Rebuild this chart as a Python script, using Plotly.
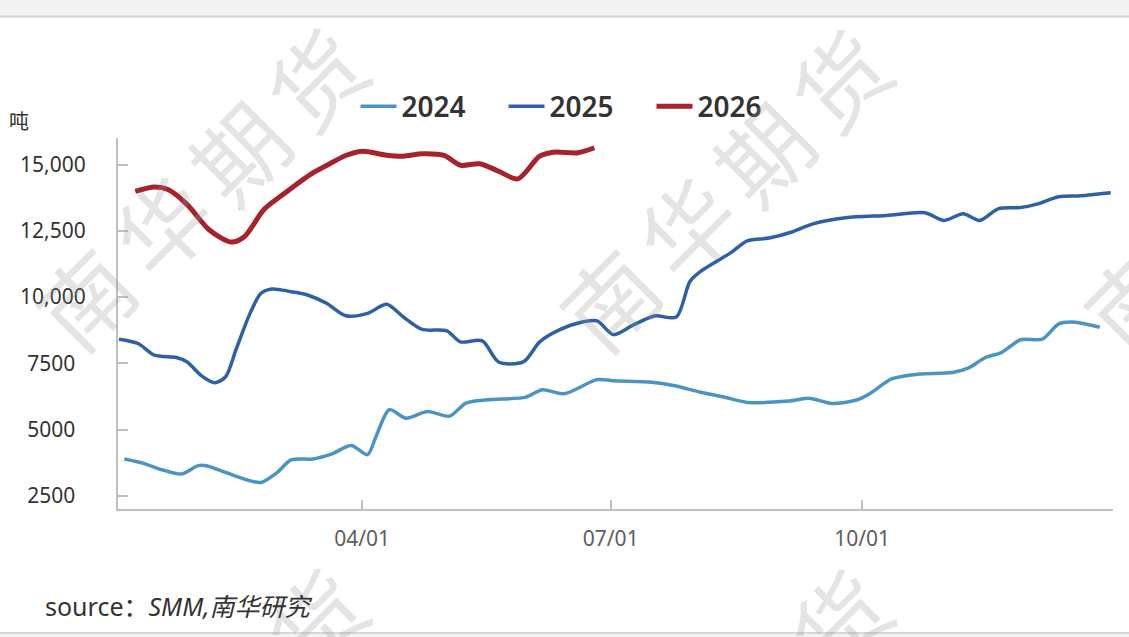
import plotly.graph_objects as go

# ---------------- data ----------------
YEAR = "2025"  # common calendar year used to overlay the seasons on one month/day axis

dates_2024 = ["01-04", "01-11", "01-18", "01-25", "01-31", "02-03", "02-10", "02-18", "02-23", "03-01",
              "03-06", "03-14", "03-21", "03-28", "04-03", "04-06", "04-11", "04-17", "04-25", "05-03",
              "05-09", "05-17", "05-31", "06-06", "06-14", "06-26", "07-02", "07-16", "07-24", "08-03",
              "08-11", "08-20", "09-04", "09-12", "09-20", "09-29", "10-04", "10-12", "10-22", "11-03",
              "11-09", "11-15", "11-21", "11-28", "12-06", "12-12", "12-18", "12-27"]
values_2024 = [3890, 3724, 3472, 3320, 3636, 3636, 3382, 3093, 3003, 3382,
               3852, 3890, 4080, 4394, 4053, 4709, 5746, 5428, 5681, 5503,
               5996, 6122, 6223, 6503, 6350, 6882, 6840, 6787, 6662, 6405,
               6238, 6022, 6072, 6174, 5984, 6113, 6367, 6916, 7094, 7147,
               7325, 7708, 7901, 8386, 8413, 8988, 9049, 8859]

dates_2025 = ["01-02", "01-09", "01-15", "01-23", "01-27", "02-01", "02-06", "02-10", "02-14", "02-19",
              "02-23", "02-27", "03-06", "03-12", "03-19", "03-26", "04-03", "04-10", "04-16", "04-23",
              "05-02", "05-07", "05-15", "05-21", "05-30", "06-05", "06-12", "06-21", "06-26", "07-02",
              "07-09", "07-17", "07-25", "07-30", "08-03", "08-14", "08-20", "08-28", "09-05", "09-13",
              "09-25", "10-10", "10-24", "10-31", "11-07", "11-13", "11-20", "11-28", "12-04", "12-12",
              "12-20", "12-31"]
values_2025 = [8409, 8246, 7803, 7716, 7549, 7045, 6768, 6981, 8057, 9382,
               10140, 10303, 10201, 10076, 9761, 9292, 9382, 9723, 9254, 8776,
               8723, 8307, 8345, 7549, 7549, 8307, 8750, 9064, 9102, 8580,
               8928, 9284, 9246, 10587, 10973, 11674, 12121, 12224, 12443, 12761,
               12992, 13079, 13182, 12890, 13144, 12890, 13337, 13375, 13504, 13784,
               13822, 13936]

dates_2026 = ["01-08", "01-15", "01-20", "01-27", "02-04", "02-12", "02-17", "02-24", "03-03", "03-13",
              "03-19", "03-26", "04-01", "04-10", "04-16", "04-23", "05-01", "05-07", "05-14", "05-21",
              "05-28", "06-05", "06-10", "06-19", "06-25"]
values_2026 = [13989, 14155, 14053, 13485, 12538, 12072, 12284, 13295, 13864, 14621,
               14962, 15341, 15504, 15352, 15314, 15405, 15341, 14973, 15026, 14746,
               14458, 15314, 15466, 15443, 15633]

series_names = ["2024", "2025", "2026"]

y_tick_values = [2500, 5000, 7500, 10000, 12500, 15000]
y_tick_labels = ["2500", "5000", "7500", "10,000", "12,500", "15,000"]
x_tick_dates = ["04-01", "07-01", "10-01"]
x_tick_labels = ["04/01", "07/01", "10/01"]

unit_label = "吨"
source_text = "source：<i>SMM,南华研究</i>"
watermark_text = "南华期货"

# ---------------- styling / layout ----------------
W, H = 1129, 637
PL, PR, PT, PB = 118, 1113, 138, 509   # plot area in page pixels

def px(xp):
    return (xp - PL) / (PR - PL)

def py(yp):
    return (PB - yp) / (PB - PT)

FONT = "Noto Sans, Noto Sans CJK SC, sans-serif"
colors = ["#4b94c2", "#2e60a4", "#a8222b"]
widths = [3.5, 3.5, 5]

fig = go.Figure()
for name, d, v, c, w in zip(series_names, [dates_2024, dates_2025, dates_2026],
                            [values_2024, values_2025, values_2026], colors, widths):
    fig.add_trace(go.Scatter(
        x=[f"{YEAR}-{s}" for s in d], y=v, name=name, mode="lines",
        line=dict(color=c, width=w, shape="spline", smoothing=0.8),
        hoverinfo="skip"))

annotations = []
# watermark (drawn as real rotated text)
step = (77, -73)
for cx, cy in [(198, 187), (722, 188), (1246, 188), (198, 727), (722, 728), (1246, 728)]:
    for k, ch in zip([-1.5, -0.5, 0.5, 1.5], watermark_text):
        annotations.append(dict(
            text=ch, x=px(cx + k * step[0]), y=py(cy + k * step[1]),
            xref="paper", yref="paper", showarrow=False, textangle=-45,
            xanchor="center", yanchor="middle",
            font=dict(family="Noto Sans CJK SC", size=92, color="rgba(150,150,150,0.26)")))

annotations.append(dict(text=unit_label, x=px(19), y=py(121), xref="paper", yref="paper",
                        showarrow=False, xanchor="center", yanchor="middle",
                        font=dict(family=FONT, size=20, color="#333333")))
annotations.append(dict(text=source_text, x=px(43), y=py(606), xref="paper", yref="paper",
                        showarrow=False, xanchor="left", yanchor="middle",
                        font=dict(family=FONT, size=25, color="#333333")))

shapes = [
    dict(type="rect", xref="paper", yref="paper", x0=px(0), x1=px(W), y0=py(16), y1=py(-2),
         fillcolor="#f2f2f2", line=dict(width=0), layer="above"),
    dict(type="line", xref="paper", yref="paper", x0=px(0), x1=px(W), y0=py(16.5), y1=py(16.5),
         line=dict(color="#d4d4d4", width=2), layer="above"),
    dict(type="rect", xref="paper", yref="paper", x0=px(0), x1=px(W), y0=py(H + 2), y1=py(633),
         fillcolor="#f2f2f2", line=dict(width=0), layer="above"),
    dict(type="line", xref="paper", yref="paper", x0=px(0), x1=px(W), y0=py(633), y1=py(633),
         line=dict(color="#d9d9d9", width=2), layer="above"),
]

fig.update_layout(
    width=W, height=H,
    margin=dict(l=PL, r=W - PR, t=PT, b=H - PB, pad=0, autoexpand=False),
    paper_bgcolor="white", plot_bgcolor="white",
    font=dict(family=FONT, color="#333333"),
    showlegend=True,
    legend=dict(orientation="h", xref="container", yref="container",
                x=(564.5 + 13) / W, xanchor="center", y=1 - 106.5 / H, yanchor="middle",
                font=dict(family=FONT, size=28, color="#333333", weight=600),
                itemwidth=36, entrywidth=97, entrywidthmode="pixels",
                bgcolor="rgba(0,0,0,0)"),
    xaxis=dict(type="date", range=[f"{YEAR}-01-01 16:00", f"{YEAR}-12-31 20:00"],
               tickvals=[f"{YEAR}-{s}" for s in x_tick_dates], ticktext=x_tick_labels,
               showline=True, linecolor="#c0c0c0", linewidth=2,
               ticks="inside", ticklen=9, tickwidth=2, tickcolor="#c0c0c0",
               showgrid=False, zeroline=False, ticklabelstandoff=10,
               tickfont=dict(family=FONT, size=21, color="#5e5e5e")),
    yaxis=dict(range=[2000, 16000], tickvals=y_tick_values,
               ticktext=[t if len(t) > 4 else t + "\u2002" for t in y_tick_labels],
               showline=True, linecolor="#c0c0c0", linewidth=2,
               ticks="inside", ticklen=10, tickwidth=2, tickcolor="#c0c0c0",
               showgrid=False, zeroline=False, ticklabelstandoff=26,
               tickfont=dict(family=FONT, size=21, color="#333333")),
    annotations=annotations,
    shapes=shapes,
)

fig.write_html("out.html", config={"displayModeBar": False},
               post_script="document.body.style.margin='0';document.body.style.overflow='hidden';")
